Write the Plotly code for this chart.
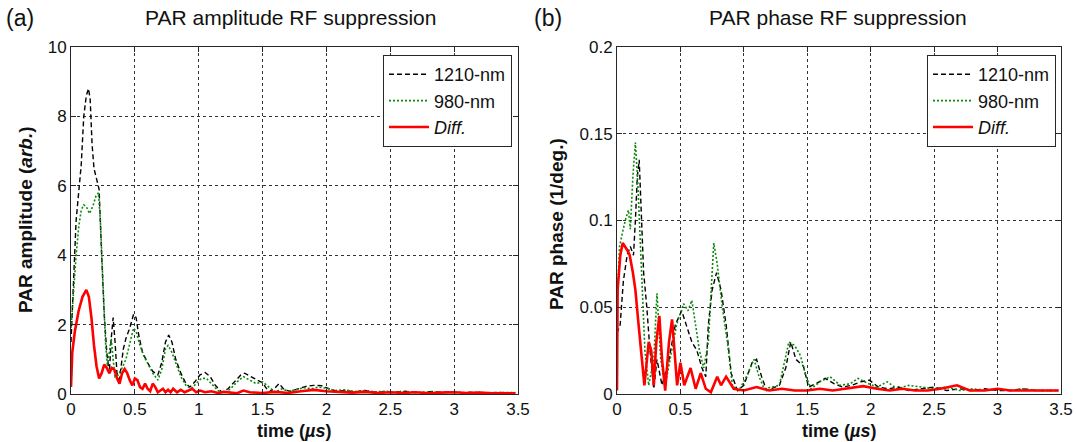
import plotly.graph_objects as go

# ---------------- Panel (a): PAR amplitude ----------------
amp_t_1210 = [0, 0.02, 0.04, 0.06, 0.08, 0.10, 0.12, 0.137, 0.15, 0.165, 0.18, 0.20, 0.22, 0.24, 0.26,
              0.28, 0.30, 0.315, 0.33, 0.345, 0.36, 0.375, 0.39, 0.41, 0.43, 0.46, 0.49, 0.51, 0.53,
              0.56, 0.60, 0.64, 0.68, 0.71, 0.74, 0.765, 0.79, 0.82, 0.86, 0.90, 0.93, 0.97, 1.01,
              1.05, 1.09, 1.13, 1.18, 1.23, 1.28, 1.33, 1.36, 1.40, 1.45, 1.50, 1.55, 1.59, 1.63,
              1.67, 1.72, 1.78, 1.84, 1.90, 1.96, 2.02, 2.08, 2.15, 2.22, 2.30, 2.38, 2.45, 2.52,
              2.60, 2.68, 2.75, 2.83, 2.90, 2.98, 3.05, 3.12, 3.20, 3.28, 3.35, 3.42, 3.48]
amp_1210 = [1.5, 3.5, 5.0, 5.8, 6.6, 8.0, 8.6, 8.8, 8.5, 7.2, 6.5, 6.2, 5.9, 4.0, 2.3,
            1.2, 0.6, 1.6, 2.2, 1.5, 0.6, 0.3, 0.8, 1.3, 1.6, 1.9, 2.3, 2.2, 1.7,
            1.2, 0.9, 0.65, 0.55, 0.9, 1.5, 1.7, 1.5, 1.0, 0.6, 0.3, 0.2, 0.35, 0.55,
            0.62, 0.5, 0.25, 0.05, 0.15, 0.35, 0.55, 0.6, 0.52, 0.4, 0.32, 0.06, 0.15, 0.3,
            0.12, 0.08, 0.15, 0.22, 0.25, 0.24, 0.15, 0.08, 0.1, 0.06, 0.1, 0.05, 0.06, 0.04,
            0.08, 0.05, 0.04, 0.07, 0.05, 0.06, 0.03, 0.05, 0.04, 0.03, 0.05, 0.03, 0.04]

amp_t_980 = [0, 0.02, 0.04, 0.06, 0.08, 0.10, 0.12, 0.145, 0.17, 0.195, 0.215, 0.23, 0.25, 0.27,
             0.285, 0.30, 0.315, 0.33, 0.345, 0.37, 0.40, 0.43, 0.46, 0.49, 0.51, 0.54, 0.57,
             0.60, 0.64, 0.68, 0.71, 0.74, 0.76, 0.79, 0.82, 0.86, 0.90, 0.94, 0.98, 1.02,
             1.06, 1.10, 1.15, 1.20, 1.25, 1.30, 1.35, 1.40, 1.45, 1.50, 1.55, 1.60, 1.65,
             1.70, 1.76, 1.82, 1.88, 1.94, 2.00, 2.07, 2.14, 2.22, 2.30, 2.38, 2.46, 2.54,
             2.62, 2.70, 2.78, 2.86, 2.94, 3.02, 3.10, 3.18, 3.26, 3.34, 3.42, 3.48]
amp_980 = [1.9, 3.0, 4.0, 4.8, 5.3, 5.45, 5.4, 5.2, 5.4, 5.7, 5.8, 5.0, 3.0, 1.5,
           0.8, 1.2, 1.6, 1.0, 0.5, 0.55, 0.75, 1.0, 1.5, 1.9, 1.8, 1.4, 1.1,
           0.9, 0.6, 0.4, 0.7, 1.3, 1.4, 1.2, 0.9, 0.5, 0.25, 0.15, 0.3, 0.45,
           0.45, 0.3, 0.1, 0.03, 0.15, 0.35, 0.5, 0.4, 0.3, 0.35, 0.2, 0.05, 0.15,
           0.08, 0.12, 0.18, 0.15, 0.2, 0.17, 0.1, 0.12, 0.07, 0.1, 0.06, 0.08, 0.05,
           0.07, 0.04, 0.06, 0.05, 0.04, 0.06, 0.03, 0.05, 0.03, 0.04, 0.03, 0.04]

amp_t_diff = [0, 0.01, 0.03, 0.06, 0.09, 0.12, 0.14, 0.16, 0.18, 0.20, 0.22, 0.24, 0.26, 0.28,
              0.30, 0.32, 0.34, 0.36, 0.38, 0.40, 0.42, 0.44, 0.46, 0.48, 0.50, 0.52, 0.54,
              0.56, 0.58, 0.60, 0.62, 0.64, 0.66, 0.68, 0.70, 0.72, 0.74, 0.76, 0.78, 0.80,
              0.83, 0.86, 0.89, 0.92, 0.95, 0.98, 1.01, 1.05, 1.10, 1.15, 1.20, 1.30, 1.35,
              1.40, 1.50, 1.60, 1.70, 1.80, 1.90, 2.00, 2.10, 2.20, 2.30, 2.40, 2.50, 2.60,
              2.70, 2.80, 2.90, 3.00, 3.10, 3.20, 3.30, 3.40, 3.48]
amp_diff = [0.2, 1.2, 1.8, 2.4, 2.8, 3.0, 2.8, 2.2, 1.4, 0.8, 0.45, 0.6, 0.85, 0.75,
            0.6, 0.75, 0.7, 0.45, 0.3, 0.6, 0.72, 0.6, 0.4, 0.25, 0.45, 0.4, 0.2,
            0.15, 0.3, 0.15, 0.08, 0.3, 0.2, 0.05, 0.1, 0.15, 0.05, 0.12, 0.05, 0.15,
            0.05, 0.12, 0.05, 0.1, 0.15, 0.05, 0.1, 0.05, 0.08, 0.03, 0.06, 0.02, 0.1,
            0.05, 0.03, 0.06, 0.03, 0.08, 0.12, 0.08, 0.05, 0.04, 0.06, 0.03, 0.05, 0.03,
            0.05, 0.02, 0.04, 0.05, 0.03, 0.04, 0.02, 0.03, 0.02]

# ---------------- Panel (b): PAR phase ----------------
ph_t_1210 = [0, 0.025, 0.05, 0.08, 0.105, 0.13, 0.145, 0.16, 0.175, 0.19, 0.21, 0.235, 0.26,
             0.29, 0.315, 0.355, 0.38, 0.41, 0.46, 0.51, 0.545, 0.59, 0.63, 0.67, 0.70, 0.72,
             0.75, 0.785, 0.82, 0.86, 0.90, 0.95, 1.00, 1.065, 1.10, 1.14, 1.18, 1.28, 1.33,
             1.37, 1.41, 1.47, 1.51, 1.57, 1.64, 1.71, 1.78, 1.85, 1.92, 1.99, 2.06, 2.14,
             2.22, 2.30, 2.40, 2.50, 2.60, 2.70, 2.80, 2.90, 3.00, 3.10, 3.20, 3.30, 3.40, 3.48]
ph_1210 = [0.035, 0.04, 0.065, 0.08, 0.085, 0.08, 0.1, 0.125, 0.135, 0.11, 0.07, 0.05, 0.025,
           0.003, 0.02, 0.005, 0.012, 0.02, 0.04, 0.048, 0.04, 0.03, 0.025, 0.015, 0.01, 0.04,
           0.06, 0.07, 0.06, 0.04, 0.012, 0.002, 0.005, 0.018, 0.02, 0.01, 0.002, 0.005, 0.015,
           0.03, 0.02, 0.016, 0.004, 0.006, 0.009, 0.006, 0.004, 0.005, 0.007, 0.008, 0.004, 0.003,
           0.004, 0.002, 0.003, 0.004, 0.002, 0.003, 0.002, 0.003, 0.002, 0.002, 0.003, 0.002, 0.002, 0.002]

ph_t_980 = [0, 0.02, 0.04, 0.065, 0.09, 0.105, 0.125, 0.145, 0.165, 0.184, 0.20, 0.22, 0.25,
            0.29, 0.315, 0.33, 0.345, 0.38, 0.42, 0.47, 0.525, 0.56, 0.59, 0.62, 0.65, 0.684,
            0.72, 0.75, 0.763, 0.79, 0.83, 0.87, 0.91, 0.96, 1.02, 1.08, 1.12, 1.16, 1.28,
            1.355, 1.40, 1.447, 1.49, 1.53, 1.60, 1.68, 1.76, 1.84, 1.90, 1.98, 2.05, 2.13,
            2.21, 2.30, 2.40, 2.50, 2.60, 2.70, 2.80, 2.90, 3.00, 3.10, 3.20, 3.30, 3.40, 3.48]
ph_980 = [0.05, 0.085, 0.092, 0.1, 0.106, 0.095, 0.125, 0.145, 0.12, 0.09, 0.06, 0.025, 0.005,
          0.02, 0.058, 0.04, 0.02, 0.005, 0.02, 0.04, 0.052, 0.048, 0.054, 0.04, 0.025, 0.015,
          0.03, 0.07, 0.087, 0.075, 0.05, 0.03, 0.005, 0.002, 0.01, 0.02, 0.01, 0.003, 0.005,
          0.03, 0.028, 0.022, 0.01, 0.003, 0.007, 0.01, 0.005, 0.006, 0.009, 0.006, 0.004, 0.007,
          0.003, 0.005, 0.004, 0.003, 0.004, 0.002, 0.003, 0.002, 0.003, 0.002, 0.003, 0.002, 0.002, 0.002]

ph_t_diff = [0, 0.005, 0.026, 0.045, 0.08, 0.10, 0.125, 0.145, 0.17, 0.197, 0.216, 0.25, 0.27,
             0.29, 0.31, 0.334, 0.355, 0.38, 0.41, 0.434, 0.455, 0.474, 0.50, 0.53, 0.58, 0.62,
             0.66, 0.70, 0.74, 0.79, 0.82, 0.86, 0.92, 1.00, 1.10, 1.20, 1.30, 1.40, 1.50,
             1.60, 1.70, 1.80, 1.94, 2.05, 2.15, 2.25, 2.35, 2.45, 2.55, 2.68, 2.78, 2.90,
             3.00, 3.10, 3.20, 3.30, 3.40, 3.48]
ph_diff = [0.002, 0.06, 0.08, 0.087, 0.083, 0.08, 0.07, 0.06, 0.04, 0.02, 0.005, 0.03, 0.025,
           0.005, 0.03, 0.045, 0.02, 0.002, 0.03, 0.043, 0.02, 0.005, 0.018, 0.005, 0.015, 0.003,
           0.012, 0.003, 0.001, 0.01, 0.005, 0.01, 0.003, 0.002, 0.004, 0.002, 0.003, 0.002, 0.002,
           0.003, 0.002, 0.003, 0.0045, 0.003, 0.002, 0.003, 0.002, 0.002, 0.003, 0.005, 0.002, 0.002,
           0.003, 0.002, 0.002, 0.002, 0.002, 0.002]

x_ticks = [0, 0.5, 1, 1.5, 2, 2.5, 3, 3.5]
x_tick_text = ["0", "0.5", "1", "1.5", "2", "2.5", "3", "3.5"]
amp_ticks = [0, 2, 4, 6, 8, 10]
ph_ticks = [0, 0.05, 0.1, 0.15, 0.2]
ph_tick_text = ["0", "0.05", "0.1", "0.15", "0.2"]

BLACK = "#000000"
GREEN = "#0a8a0a"
RED = "#ff0000"
FONT = "Liberation Sans, Arial, sans-serif"

fig = go.Figure()

def add_set(xaxis, yaxis, legend, data):
    for (t, y, name, color, dash, width) in data:
        fig.add_trace(go.Scatter(
            x=t, y=y, mode="lines", name=name, xaxis=xaxis, yaxis=yaxis, legend=legend,
            line=dict(color=color, dash=dash, width=width), hoverinfo="skip"))

add_set("x", "y", "legend", [
    (amp_t_1210, amp_1210, "1210-nm", BLACK, "5px,3px", 1.4),
    (amp_t_980, amp_980, "980-nm", GREEN, "2px,2px", 1.6),
    (amp_t_diff, amp_diff, "<i>Diff.</i>", RED, "solid", 2.6),
])
add_set("x2", "y2", "legend2", [
    (ph_t_1210, ph_1210, "1210-nm", BLACK, "5px,3px", 1.4),
    (ph_t_980, ph_980, "980-nm", GREEN, "2px,2px", 1.6),
    (ph_t_diff, ph_diff, "<i>Diff.</i>", RED, "solid", 2.6),
])

W, H = 1076, 442
dom_y = [(H - 394) / H, (H - 47) / H]
dom_x1 = [71 / W, 518 / W]
dom_x2 = [617 / W, 1061 / W]

axis_common = dict(
    showline=True, linecolor="#262626", linewidth=1, mirror="ticks",
    ticks="inside", ticklen=5, tickcolor="#262626",
    showgrid=True, gridcolor="#333333", gridwidth=1, griddash="3px,3px",
    zeroline=False, tickfont=dict(family=FONT, size=17, color="#111"),
    automargin=False,
)

legend_common = dict(
    bgcolor="white", bordercolor="#262626", borderwidth=1,
    font=dict(family=FONT, size=18, color="#111"), tracegroupgap=0,
    itemwidth=40, xanchor="right", yanchor="top", y=(H - 55) / H,
)

fig.update_layout(
    width=W, height=H, margin=dict(l=0, r=0, t=0, b=0),
    paper_bgcolor="white", plot_bgcolor="white",
    font=dict(family=FONT, color="#111"),
    xaxis=dict(domain=dom_x1, range=[0, 3.5], tickvals=x_ticks, ticktext=x_tick_text,
               anchor="y", **axis_common),
    yaxis=dict(domain=dom_y, range=[0, 10], tickvals=amp_ticks, anchor="x", **axis_common),
    xaxis2=dict(domain=dom_x2, range=[0, 3.5], tickvals=x_ticks, ticktext=x_tick_text,
                anchor="y2", **axis_common),
    yaxis2=dict(domain=dom_y, range=[0, 0.2], tickvals=ph_ticks, ticktext=ph_tick_text,
                anchor="x2", **axis_common),
    legend=dict(x=512 / W, **legend_common),
    legend2=dict(x=1056 / W, **legend_common),
    showlegend=True,
)

ann = []
def A(text, x, y, size, bold=False, angle=0, xanchor="center"):
    t = f"<b>{text}</b>" if bold else text
    ann.append(dict(text=t, x=x / W, y=1 - y / H, xref="paper", yref="paper",
                    showarrow=False, textangle=angle, xanchor=xanchor, yanchor="middle",
                    font=dict(family=FONT, size=size, color="#111")))

A("(a)", 4, 18, 23, xanchor="left")
A("(b)", 532, 18, 23, xanchor="left")
A("PAR amplitude RF suppression", 290, 18, 21)
A("PAR phase RF suppression", 838, 18, 21)
A("time (<i>µs</i>)", 294, 431, 18, bold=True)
A("time (<i>µs</i>)", 839, 431, 18, bold=True)
A("PAR amplitude (<i>arb.</i>)", 25, 220, 19, bold=True, angle=-90)
A("PAR phase (1/deg.)", 556, 224, 19, bold=True, angle=-90)
fig.update_layout(annotations=ann)

fig.write_html("out.html")
